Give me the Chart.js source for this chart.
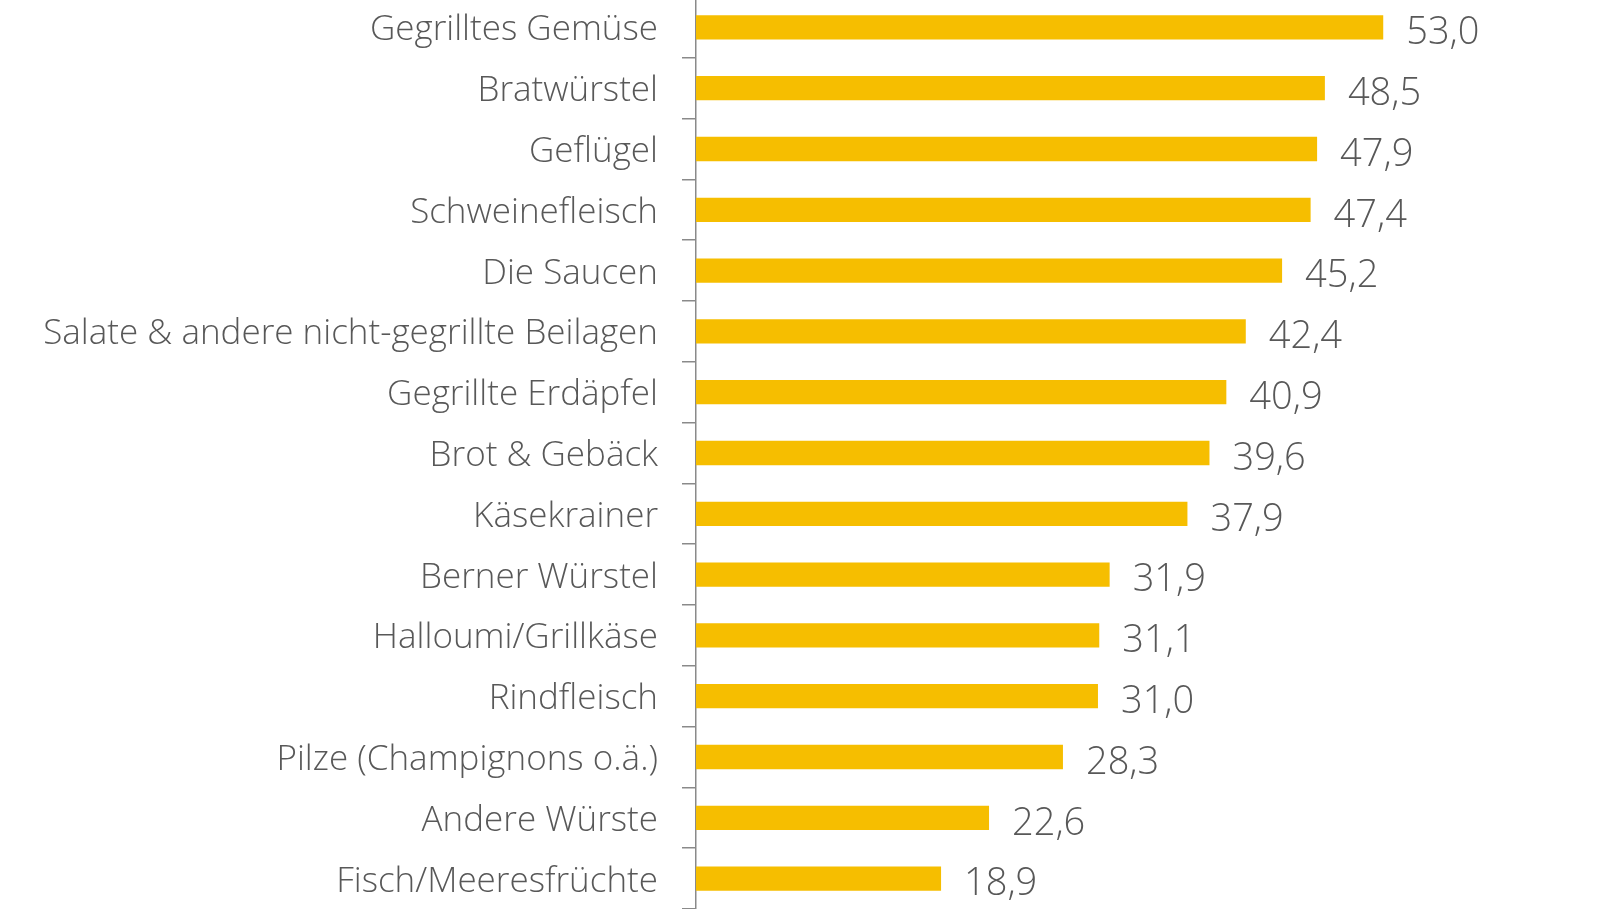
<!DOCTYPE html>
<html>
<head>
<meta charset="utf-8">
<script src="https://cdn.jsdelivr.net/npm/chart.js@4"></script>
<style>
  html, body { margin: 0; padding: 0; background: #fff; overflow: hidden; }
  #wrap { position: absolute; left: 0; top: -3px; width: 1616px; height: 912px; }
</style>
</head>
<body>
<div id="wrap"><canvas id="chart"></canvas></div>
<script>
// Grill favourites, share in percent
const categories = [
  "Gegrilltes Gemüse",
  "Bratwürstel",
  "Geflügel",
  "Schweinefleisch",
  "Die Saucen",
  "Salate & andere nicht-gegrillte Beilagen",
  "Gegrillte Erdäpfel",
  "Brot & Gebäck",
  "Käsekrainer",
  "Berner Würstel",
  "Halloumi/Grillkäse",
  "Rindfleisch",
  "Pilze (Champignons o.ä.)",
  "Andere Würste",
  "Fisch/Meeresfrüchte"
];
const values = [53.0, 48.5, 47.9, 47.4, 45.2, 42.4, 40.9, 39.6, 37.9, 31.9, 31.1, 31.0, 28.3, 22.6, 18.9];

const FONT = "'Open Sans', sans-serif";
const TEXT_COLOR = "#585858";

const valueLabels = {
  id: "valueLabels",
  afterDatasetsDraw(chart) {
    const ctx = chart.ctx;
    const meta = chart.getDatasetMeta(0);
    ctx.save();
    ctx.font = "300 38px " + FONT;
    ctx.fillStyle = TEXT_COLOR;
    ctx.textAlign = "left";
    ctx.textBaseline = "middle";
    meta.data.forEach((bar, i) => {
      const txt = values[i].toFixed(1).replace(".", ",");
      ctx.fillText(txt, bar.x + 23, bar.y + 6);
    });
    ctx.restore();
  }
};

new Chart(document.getElementById("chart"), {
  type: "bar",
  data: {
    labels: categories,
    datasets: [{
      data: values,
      backgroundColor: "#F6BE00",
      borderWidth: 0,
      categoryPercentage: 1,
      barPercentage: 0.4
    }]
  },
  options: {
    indexAxis: "y",
    responsive: true,
    maintainAspectRatio: false,
    animation: false,
    layout: { padding: { left: 0, right: 142, top: 0, bottom: 0 } },
    plugins: {
      legend: { display: false },
      tooltip: { enabled: false }
    },
    scales: {
      x: {
        display: false,
        min: 0,
        max: 60
      },
      y: {
        afterFit(scale) {
          scale.width = 696;
          scale.paddingTop = 0;
          scale.paddingBottom = 0;
        },
        border: { display: true, color: "#8a8a8a", width: 1.5 },
        grid: {
          display: true,
          drawOnChartArea: false,
          drawTicks: true,
          tickLength: 14,
          color: "#8a8a8a",
          lineWidth: 1.5
        },
        ticks: {
          color: TEXT_COLOR,
          padding: 24,
          labelOffset: 3,
          font: { family: FONT, size: 35, weight: 300 }
        }
      }
    }
  },
  plugins: [valueLabels]
});
</script>
</body>
</html>
